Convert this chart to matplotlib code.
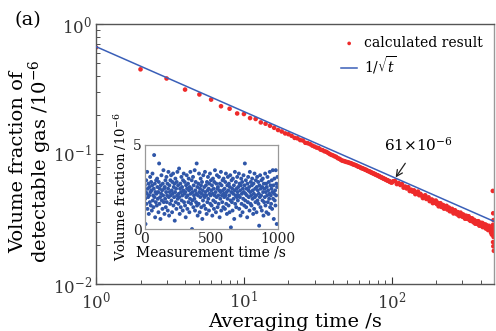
import numpy as np
import matplotlib
matplotlib.use("Agg")
import matplotlib.pyplot as plt

plt.rcParams['font.family'] = ['DejaVu Serif']
plt.rcParams['mathtext.fontset'] = 'dejavuserif'

# ---- main data: Allan deviation (calculated result) ----
tau_small = list(range(1, 101))
adev_small = [
    0.660, 0.448, 0.381, 0.313, 0.287, 0.262, 0.233, 0.223, 0.205, 0.203,
    0.189, 0.186, 0.175, 0.171, 0.165, 0.159, 0.153, 0.149, 0.144, 0.142,
    0.138, 0.133, 0.132, 0.128, 0.127, 0.122, 0.121, 0.119, 0.116, 0.114,
    0.112, 0.111, 0.108, 0.107, 0.105, 0.104, 0.102, 0.100, 0.0985, 0.0975,
    0.0960, 0.0950, 0.0930, 0.0920, 0.0905, 0.0890, 0.0885, 0.0878, 0.0870, 0.0866,
    0.0860, 0.0852, 0.0848, 0.0838, 0.0830, 0.0826, 0.0818, 0.0812, 0.0800, 0.0798,
    0.0790, 0.0780, 0.0778, 0.0770, 0.0765, 0.0758, 0.0755, 0.0745, 0.0740, 0.0736,
    0.0732, 0.0722, 0.0720, 0.0712, 0.0710, 0.0702, 0.0700, 0.0692, 0.0688, 0.0686,
    0.0678, 0.0676, 0.0668, 0.0665, 0.0660, 0.0657, 0.0650, 0.0648, 0.0643, 0.0640,
    0.0636, 0.0630, 0.0628, 0.0624, 0.0621, 0.0616, 0.0613, 0.0608, 0.0606, 0.0603,
]
tau_large = list(range(102, 480, 3))
adev_large = [
    0.0617, 0.0621, 0.0587, 0.0598, 0.0578, 0.0588, 0.0551, 0.0562, 0.0543, 0.0555,
    0.0519, 0.0531, 0.0513, 0.0525, 0.0491, 0.0503, 0.0514, 0.0482, 0.0493, 0.0478,
    0.0458, 0.0475, 0.0481, 0.0451, 0.0457, 0.0464, 0.0434, 0.0441, 0.0447, 0.0419,
    0.0436, 0.0422, 0.0438, 0.0412, 0.0422, 0.0396, 0.0411, 0.0418, 0.0392, 0.0399,
    0.0405, 0.0380, 0.0395, 0.0384, 0.0399, 0.0374, 0.0380, 0.0387, 0.0363, 0.0374,
    0.0363, 0.0378, 0.0363, 0.0349, 0.0363, 0.0369, 0.0351, 0.0357, 0.0343, 0.0357,
    0.0347, 0.0333, 0.0348, 0.0354, 0.0336, 0.0342, 0.0329, 0.0343, 0.0329, 0.0335,
    0.0318, 0.0329, 0.0335, 0.0318, 0.0327, 0.0319, 0.0332, 0.0312, 0.0318, 0.0306,
    0.0319, 0.0310, 0.0320, 0.0304, 0.0310, 0.0298, 0.0311, 0.0303, 0.0291, 0.0304,
    0.0295, 0.0304, 0.0290, 0.0295, 0.0304, 0.0290, 0.0281, 0.0294, 0.0286, 0.0295,
    0.0281, 0.0286, 0.0295, 0.0274, 0.0283, 0.0289, 0.0275, 0.0284, 0.0276, 0.0287,
    0.0267, 0.0276, 0.0282, 0.0268, 0.0277, 0.0260, 0.0272, 0.0280, 0.0264, 0.0272,
    0.0259, 0.0267, 0.0248, 0.0263, 0.0240, 0.0252,
]
tau_end = [480, 481, 482, 483, 484, 485, 486, 487, 488, 489]
adev_end = [0.0240, 0.0520, 0.0285, 0.0210, 0.0350, 0.0195, 0.0310, 0.0230, 0.0265, 0.0180]

tau = tau_small + tau_large + tau_end
adev = adev_small + adev_large + adev_end

# reference 1/sqrt(t) line (endpoints)
line_t = [1, 490]
line_v = [0.67, 0.0303]

# ---- inset data: raw measurement ----
meas_time = np.arange(0, 1000, 2.5)
meas_val = [
    2.6, 1.8, 0.3, 2.2, 2.9, 1.5, 2.1, 3.4, 1.2, 2.4, 1.9, 2.7, 0.9, 2.0, 2.5, 1.6, 3.1, 2.2, 1.4, 2.8,
    2.3, 1.1, 2.6, 3.3, 1.7, 2.0, 1.3, 2.4, 4.4, 1.9, 2.7, 0.7, 2.2, 1.6, 2.9, 2.1, 1.4, 3.0, 2.5, 1.8,
    2.2, 1.0, 2.8, 3.9, 1.5, 2.4, 1.9, 0.6, 2.6, 2.1, 3.2, 1.7, 2.3, 1.2, 2.7, 2.0, 3.5, 1.6, 2.4, 0.9,
    2.5, 1.8, 2.9, 1.3, 2.2, 3.1, 1.6, 2.0, 2.7, 1.1, 2.4, 3.4, 1.9, 0.8, 2.6, 2.2, 1.5, 2.9, 2.0, 3.2,
    1.7, 2.3, 1.0, 2.8, 2.1, 3.3, 1.4, 2.5, 1.9, 2.7, 0.5, 2.2, 3.0, 1.6, 2.4, 1.2, 2.8, 2.0, 3.4, 1.8,
    2.6, 1.5, 2.1, 3.6, 1.9, 0.9, 2.4, 2.7, 1.3, 2.2, 3.1, 1.7, 2.5, 2.0, 1.1, 2.9, 2.3, 3.3, 1.6, 2.1,
    2.8, 1.4, 2.2, 0.7, 2.6, 1.9, 3.2, 2.4, 1.2, 2.0, 2.7, 1.6, 3.0, 2.3, 1.0, 2.5, 1.8, 3.4, 2.1, 1.5,
    2.4, 2.9, 0.0, 1.7, 2.2, 3.1, 1.3, 2.6, 2.0, 1.8, 3.5, 1.1, 2.3, 2.8, 1.6, 2.1, 3.9, 1.4, 2.5, 0.8,
    2.0, 2.7, 1.5, 3.3, 2.2, 1.0, 2.4, 1.9, 3.0, 2.6, 1.3, 2.1, 2.8, 0.6, 2.3, 1.7, 3.2, 2.0, 1.4, 2.5,
    1.9, 3.4, 2.2, 1.2, 2.6, 2.0, 0.9, 2.8, 1.6, 2.3, 3.1, 1.8, 2.4, 1.1, 2.7, 2.1, 3.3, 1.5, 2.0, 2.9,
    2.3, 1.4, 2.6, 0.8, 2.1, 3.0, 1.7, 2.4, 1.2, 2.8, 2.0, 3.5, 1.6, 2.2, 1.0, 2.7, 1.9, 3.2, 2.4, 1.3,
    2.5, 2.0, 1.5, 3.1, 2.3, 0.7, 2.7, 1.8, 2.2, 3.4, 1.1, 2.6, 2.0, 1.6, 2.9, 2.3, 1.3, 3.0, 2.1, 1.9,
    2.4, 1.2, 2.8, 2.0, 3.3, 1.5, 2.2, 0.9, 2.6, 1.8, 3.1, 2.3, 1.4, 2.7, 2.0, 1.0, 2.5, 3.2, 1.7, 0.1,
    2.2, 2.9, 1.6, 2.4, 1.1, 3.0, 2.1, 1.8, 2.6, 0.6, 2.3, 3.4, 1.5, 2.0, 2.8, 1.3, 2.4, 1.9, 3.1, 2.2,
    1.7, 2.5, 2.0, 3.3, 1.2, 2.7, 1.9, 2.3, 0.8, 2.6, 3.0, 1.5, 2.1, 2.8, 1.0, 2.4, 1.8, 3.2, 2.2, 1.4,
    2.6, 3.9, 1.7, 2.1, 2.9, 1.3, 2.4, 2.0, 0.7, 2.7, 1.6, 3.1, 2.3, 1.9, 2.5, 1.1, 3.4, 2.2, 1.5, 2.8,
    2.0, 1.4, 2.6, 3.0, 1.8, 2.3, 0.9, 2.7, 2.1, 1.2, 3.3, 1.9, 2.4, 1.6, 2.9, 2.0, 1.0, 2.5, 3.1, 1.7,
    2.3, 2.8, 1.5, 2.1, 0.2, 2.6, 1.9, 3.2, 1.3, 2.4, 2.0, 2.9, 1.1, 2.5, 1.7, 3.0, 2.2, 0.8, 2.7, 1.6,
    2.4, 1.9, 3.3, 1.4, 2.2, 2.7, 1.0, 2.5, 2.0, 3.1, 1.6, 2.3, 0.9, 2.8, 1.8, 2.1, 3.4, 1.3, 2.6, 2.0,
    1.5, 2.4, 2.9, 1.2, 2.2, 3.5, 1.8, 2.6, 0.6, 2.1, 3.0, 1.7, 2.3, 1.4, 3.5, 2.0, 2.7, 0.3, 2.5, 3.1,
]

RED = '#ee2a2a'
BLUE = '#3a5fb8'
IN_BLUE = '#2f56a8'

fig = plt.figure(figsize=(4.96, 3.31), dpi=100)
ax = fig.add_axes([0.1935, 0.142, 0.8025, 0.7855])

ax.plot(line_t, line_v, color=BLUE, lw=1.1, label=r'1/$\sqrt{t}$', zorder=3)
ax.scatter(tau, adev, s=11, color=RED, edgecolors='none', label='calculated result', zorder=2)

ax.set_xscale('log')
ax.set_yscale('log')
ax.set_xlim(1, 490)
ax.set_ylim(0.01, 1)
ax.tick_params(which='both', direction='in', top=False, right=False, labelsize=12, colors='#333333')
ax.tick_params(which='major', length=5)
ax.tick_params(which='minor', length=3)
ax.tick_params(axis='x', which='major', pad=5)
ax.tick_params(axis='y', which='major', pad=3)
for sp in ax.spines.values():
    sp.set_color('#555555')
    sp.set_linewidth(1.0)
ax.spines['right'].set_color('#999999')

ax.set_xlabel('Averaging time /s', fontsize=14, labelpad=0)
ax.set_ylabel('Volume fraction of\ndetectable gas /10$^{-6}$', fontsize=14, linespacing=1.0)
ax.yaxis.set_label_coords(-0.105, 0.47)

h, l = ax.get_legend_handles_labels()
leg = ax.legend([h[1], h[0]], [l[1], l[0]], loc='upper right', frameon=False, fontsize=10,
                handlelength=1.2, handletextpad=0.45, borderaxespad=0.0, labelspacing=0.3,
                bbox_to_anchor=(0.985, 0.975), markerscale=0.8)

ax.annotate(r'61$\times$10$^{-6}$', xy=(106, 0.066), xytext=(150, 0.118),
            fontsize=11, ha='center', va='center',
            arrowprops=dict(arrowstyle='->', color='#222222', lw=0.9, shrinkA=6, shrinkB=0))

fig.text(0.03, 0.94, '(a)', fontsize=14, ha='left', va='center')

# ---- inset ----
ins = fig.add_axes([0.292, 0.308, 0.268, 0.254])
ins.scatter(meas_time, meas_val, s=8, color=IN_BLUE, edgecolors='none')
ins.set_xlim(0, 1000)
ins.set_ylim(0, 5)
ins.set_xticks([0, 500, 1000])
ins.set_yticks([0, 5])
ins.tick_params(length=0, labelsize=10, pad=2, colors='#222222')
for sp in ins.spines.values():
    sp.set_color('#999999')
    sp.set_linewidth(0.9)
ins.set_xlabel('Measurement time /s', fontsize=10, labelpad=0)
ins.set_ylabel('Volume fraction /10$^{-6}$', fontsize=9.5, labelpad=3)

fig.savefig('out.png', dpi=100)
